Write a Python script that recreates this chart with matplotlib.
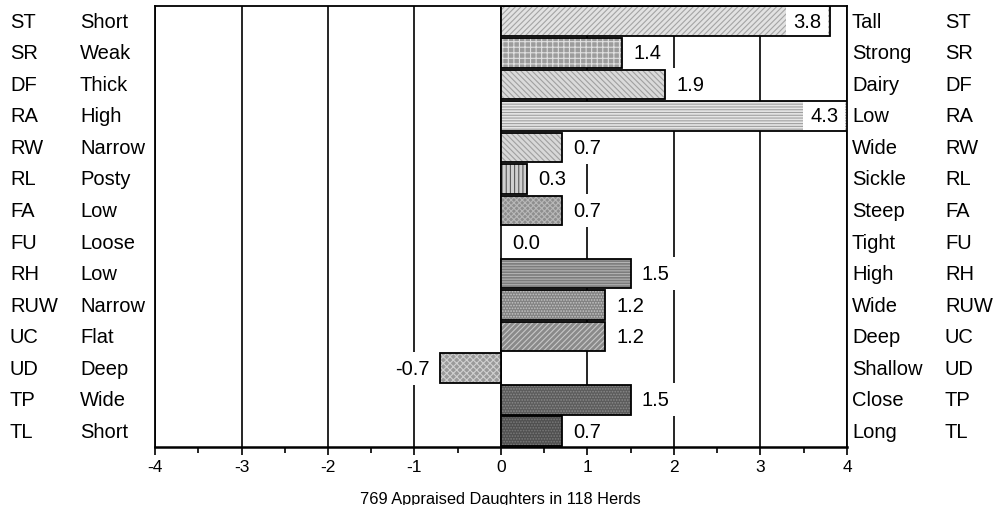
import matplotlib.pyplot as plt
from matplotlib.ticker import MultipleLocator
from matplotlib.transforms import blended_transform_factory

codes = ['ST', 'SR', 'DF', 'RA', 'RW', 'RL', 'FA', 'FU', 'RH', 'RUW', 'UC', 'UD', 'TP', 'TL']
low_labels = ['Short', 'Weak', 'Thick', 'High', 'Narrow', 'Posty', 'Low', 'Loose',
              'Low', 'Narrow', 'Flat', 'Deep', 'Wide', 'Short']
high_labels = ['Tall', 'Strong', 'Dairy', 'Low', 'Wide', 'Sickle', 'Steep', 'Tight',
               'High', 'Wide', 'Deep', 'Shallow', 'Close', 'Long']
values = [3.8, 1.4, 1.9, 4.3, 0.7, 0.3, 0.7, 0.0, 1.5, 1.2, 1.2, -0.7, 1.5, 0.7]
x_label = '769 Appraised Daughters in 118 Herds'

# fill, hatch and hatch colour for each bar
fills = ['#e2e2e2', '#9c9c9c', '#dadada', '#e6e6e6', '#d8d8d8', '#d0d0d0', '#8e8e8e',
         '#ffffff', '#7c7c7c', '#828282', '#8a8a8a', '#9a9a9a', '#5c5c5c', '#505050']
hatches = ['//////', '+++', '\\\\\\\\\\\\', '------', '\\\\\\\\\\\\', '||||', 'xxxxxx',
           '', '------', '......', '//////', 'xxxxx', '......', '......']
hatch_cols = ['#a4a4a4', '#e0e0e0', '#a0a0a0', '#a0a0a0', '#a0a0a0', '#5a5a5a', '#b8b8b8',
              '#ffffff', '#b4b4b4', '#c4c4c4', '#c8c8c8', '#d0d0d0', '#8a8a8a', '#7a7a7a']

plt.rcParams['font.family'] = 'Liberation Sans'
plt.rcParams['axes.unicode_minus'] = False
plt.rcParams['hatch.linewidth'] = 0.8

fig = plt.figure(figsize=(9.95, 5.06), dpi=100)
W, H = 995, 506
ax = fig.add_axes([155 / W, 1 - 448 / H, (847 - 155) / W, (448 - 6.5) / H])

rows = list(range(len(codes)))
for r, v, fc, h, hc in zip(rows, values, fills, hatches, hatch_cols):
    ax.barh(r, v, height=0.94, color=fc, hatch=h, edgecolor=hc, linewidth=0, zorder=2)
    if v != 0:
        ax.barh(r, v, height=0.94, fill=False, edgecolor='black', linewidth=1.3, zorder=2.6)

for r, v in zip(rows, values):
    if v > 3.5:
        x, ha = min(v, 4) - 0.1, 'right'
    elif v < 0:
        x, ha = v - 0.13, 'right'
    else:
        x, ha = v + 0.13, 'left'
    ax.text(x, r, f'{v:.1f}', ha=ha, va='center', fontsize=14.5, zorder=2.4,
            bbox=dict(facecolor='white', edgecolor='none', pad=5))

ax.set_xlim(-4, 4)
ax.set_ylim(len(codes) - 0.5, -0.5)
ax.set_xticks(range(-4, 5))
ax.xaxis.set_minor_locator(MultipleLocator(0.5))
ax.grid(axis='x', which='major', color='black', linewidth=1.2, zorder=1)
ax.set_axisbelow(True)
ax.set_yticks([])
ax.tick_params(axis='x', which='major', direction='out', length=6, width=1.2,
               pad=3, labelsize=12.5)
ax.tick_params(axis='x', which='minor', direction='out', length=4, width=1.2)
for s in ax.spines.values():
    s.set_linewidth(1.3)
    s.set_zorder(5)
ax.spines['bottom'].set_linewidth(1.8)

trans = blended_transform_factory(fig.transFigure, ax.transData)
for r, c, lo, hi in zip(rows, codes, low_labels, high_labels):
    fig.text(10 / W, r, c, transform=trans, va='center', fontsize=14.5)
    fig.text(80 / W, r, lo, transform=trans, va='center', fontsize=14.5)
    fig.text(852 / W, r, hi, transform=trans, va='center', fontsize=14.5)
    fig.text(945 / W, r, c, transform=trans, va='center', fontsize=14.5)

fig.text(500 / W, 2 / H, x_label, ha='center', va='baseline', fontsize=11.8)

fig.savefig('out.png', dpi=100)
